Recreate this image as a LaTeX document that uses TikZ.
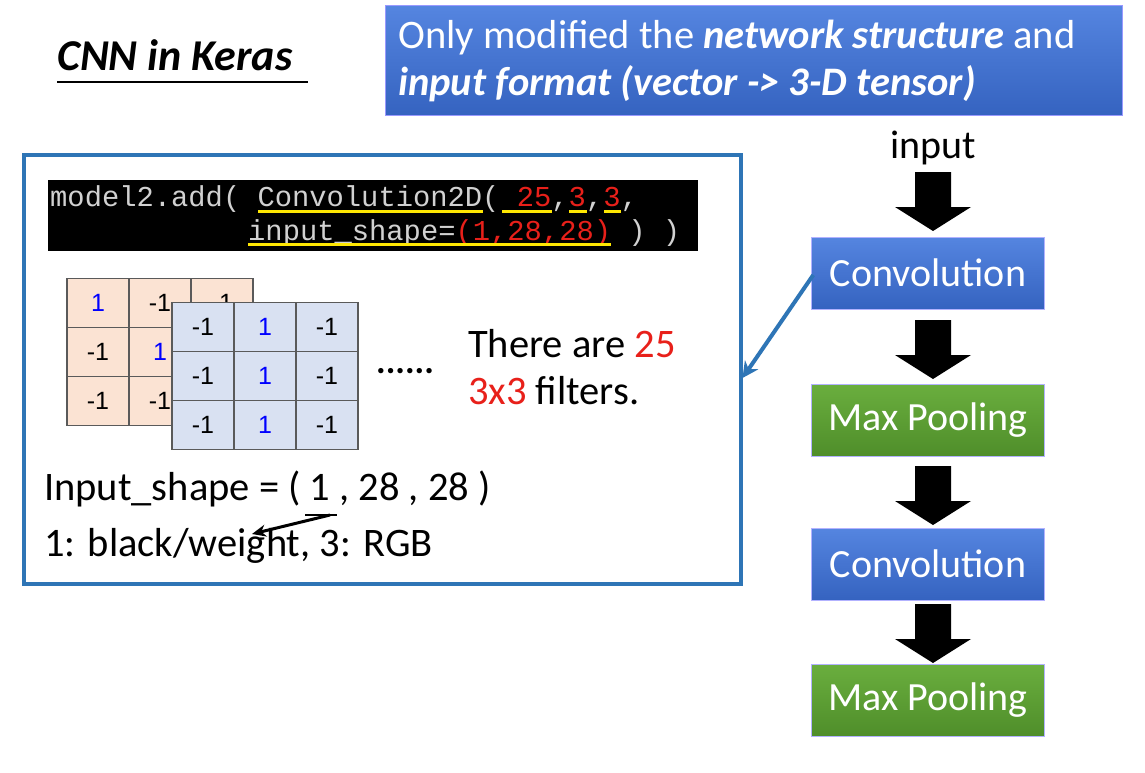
\documentclass[tikz,border=0pt]{standalone}
\usepackage{fontspec}
\setmainfont{Carlito}
\newfontfamily\codefont{Liberation Mono}
\newfontfamily\cellfont{Liberation Sans}
\usetikzlibrary{arrows.meta}
\definecolor{bbluetop}{HTML}{5585E0}
\definecolor{bbluebot}{HTML}{3563C0}
\definecolor{gtop}{HTML}{6AAE3E}
\definecolor{gbot}{HTML}{4F8E2A}
\definecolor{frame}{HTML}{2E75B6}
\definecolor{cred}{HTML}{E8201A}
\definecolor{orangecell}{HTML}{FBE3D3}
\definecolor{bluecell}{HTML}{D9E1F2}
\definecolor{cellline}{HTML}{5A5A5A}
\newcommand{\mybigarrow}[3]{\fill (#1-18,#2) -- (#1+18,#2) -- (#1+18,#3-24) -- (#1+38,#3-24) -- (#1,#3) -- (#1-38,#3-24) -- (#1-18,#3-24) -- cycle;}
\begin{document}
\begin{tikzpicture}[x=1pt,y=-1pt,
  stage/.style={draw=white!70!blue,line width=0.6pt,minimum width=233pt,minimum height=72pt,text=white,font=\fontsize{40}{46}\selectfont},
  bstage/.style={stage,top color=bbluetop,bottom color=bbluebot},
  gstage/.style={stage,top color=gtop,bottom color=gbot},
  cell/.style={draw=cellline,line width=1.2pt,minimum width=62pt,minimum height=49pt,inner sep=0pt,font=\cellfont\fontsize{25}{28}\selectfont},
  big/.style={font=\fontsize{40.5}{46}\selectfont,anchor=base west,inner sep=0pt},
  yl/.style={yellow!90!orange,line width=3pt}]
\useasboundingbox[fill=white] (0,0) rectangle (1145,772);
% title
\node[big,font=\bfseries\itshape\fontsize{44}{50}\selectfont] (title) at (57,70) {CNN in Keras};
\draw[line width=2pt] (57,82) -- (308,82);
% banner
\node[draw=white!60!blue,top color=bbluetop,bottom color=bbluebot,minimum width=737pt,minimum height=110pt,anchor=north west] (banner) at (385,5) {};
\node[big,text=white] (b1) at (398,48) {Only modified the \textbf{\textit{network structure}} and};
\node[big,text=white] (b2) at (398,95) {\textbf{\textit{input format (vector -> 3-D tensor)}}};
% main frame
\node[draw=frame,line width=3.5pt,minimum width=717pt,minimum height=429pt,anchor=north west] (main) at (22,153) {};
% code
\node[fill=black,minimum width=650pt,minimum height=71pt,anchor=north west] (code) at (48,180) {};
\node[anchor=base west,inner sep=0pt,text=white!82!black,font=\codefont\fontsize{28.8}{32}\selectfont] (c1) at (50,206) {model2.add( Convolution2D(\textcolor{cred}{\ 25},\textcolor{cred}{3},\textcolor{cred}{3},};
\node[anchor=base west,inner sep=0pt,text=white!82!black,font=\codefont\fontsize{28.8}{32}\selectfont] (c2) at (248,240) {input\_shape=\textcolor{cred}{(1,28,28)} ) )};
\draw[yl] (258,211) -- (483,211);
\draw[yl] (502,211) -- (552,211);
\draw[yl] (569,211) -- (587,211);
\draw[yl] (604,211) -- (621,211);
\draw[yl] (248,244) -- (611,244);
% orange matrix
\foreach \r in {0,1,2}{
  \node[cell,fill=orangecell] (o\r a) at (98,303+49*\r) {\ifnum\r=0 \textcolor{blue}{1}\else -1\fi};
  \node[cell,fill=orangecell] (o\r b) at (160,303+49*\r) {\ifnum\r=1 \textcolor{blue}{1}\else -1\fi};
  \node[cell,fill=orangecell] (o\r c) at (222,303+49*\r) {-1};
}
% blue matrix
\foreach \r in {0,1,2}{
  \node[cell,fill=bluecell] (p\r a) at (203,327+49*\r) {-1};
  \node[cell,fill=bluecell] (p\r b) at (265,327+49*\r) {\textcolor{blue}{1}};
  \node[cell,fill=bluecell] (p\r c) at (327,327+49*\r) {-1};
}
\node[big,font=\bfseries\fontsize{36}{40}\selectfont] (dots) at (376,373) {......};
\node[big] (t1) at (468,357) {There are \textcolor{cred}{25}};
\node[big] (t2) at (468,404) {\textcolor{cred}{3x3} filters.};
\node[big] (is) at (44,500) {Input\_shape = ( 1 , 28 , 28 )};
\coordinate (ul1) at (305,515);
\coordinate (ul2) at (337,515);
\draw[line width=2.5pt] (ul1) -- (ul2);
\coordinate (ast) at (330,515);
\coordinate (aen) at (252,534);
\draw[line width=3pt,-{Stealth[length=14pt,width=12pt]}] (ast) -- (aen);
\node[big] (bw) at (44,556) {1: black/weight, 3: RGB};
% right pipeline
\node[font=\fontsize{40}{46}\selectfont] (inp) at (933,148) {input};
\node[bstage] (conv1) at (928,273) {Convolution};
\node[gstage] (pool1) at (928,420) {Max Pooling};
\node[bstage] (conv2) at (928,564) {Convolution};
\node[gstage] (pool2) at (928,700) {Max Pooling};
\mybigarrow{933}{172}{231}
\mybigarrow{933}{320}{379}
\mybigarrow{933}{466}{525}
\mybigarrow{933}{604}{663}
\draw[frame,line width=4pt,-{Stealth[length=16pt,width=16pt]}] (conv1.west) ++(2,2) -- (main.east |- 0,378);
\end{tikzpicture}
\end{document}
